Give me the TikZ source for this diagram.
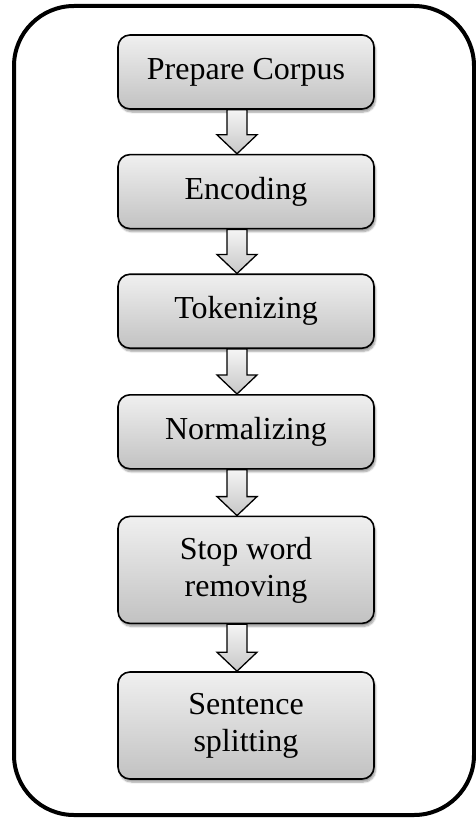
\documentclass[tikz,border=0pt]{standalone}
\usepackage{fontspec}
\setmainfont{Liberation Serif}
\usepackage{tikz}
\usetikzlibrary{positioning,calc,shadows.blur}
\newcommand{\stepdown}[2]{%
  \draw[flowarrow] let \p1=(#1.south -| axis), \p2=(#2.north -| axis) in
    (\x1-10pt,\y1) -- (\x1+10pt,\y1) -- (\x1+10pt,\y2+19pt) -- (\x1+20pt,\y2+19pt)
    -- (\x1,\y2) -- (\x1-20pt,\y2+19pt) -- (\x1-10pt,\y2+19pt) -- cycle;}

\begin{document}
\begin{tikzpicture}[x=1pt,y=-1pt,
  stage/.style={draw,line width=1.6pt,rounded corners=12pt,
    top color=black!6,bottom color=black!24,
    minimum width=256pt,minimum height=74pt,align=center,
    font=\fontsize{32}{37}\selectfont,
    blur shadow={shadow xshift=1.5pt,shadow yshift=-3pt,shadow blur steps=6,shadow opacity=40}},
  flowarrow/.style={draw,line width=1.3pt,line join=miter,
    top color=black!4,bottom color=black!22}]
  \useasboundingbox (0,0) rectangle (476,821);
  % outer frame
  \draw[line width=4pt,rounded corners=60pt] (14,6) rectangle (474,815);
  % stages
  \node[stage] (prep) at (246,72) {Prepare Corpus};
  \node[stage,below=44pt of prep] (enc) {Encoding};
  \node[stage,below=44pt of enc] (tok) {Tokenizing};
  \node[stage,below=45pt of tok] (norm) {Normalizing};
  \node[stage,below=46pt of norm,minimum height=107pt] (stop) {Stop word\\removing};
  \node[stage,below=47pt of stop,minimum height=107pt] (sent) {Sentence\\splitting};
  % block arrows
  \coordinate (axis) at (237,0);
  \foreach \a/\b in {prep/enc,enc/tok,tok/norm,norm/stop,stop/sent} {
    \stepdown{\a}{\b}
  }
\end{tikzpicture}
\end{document}
